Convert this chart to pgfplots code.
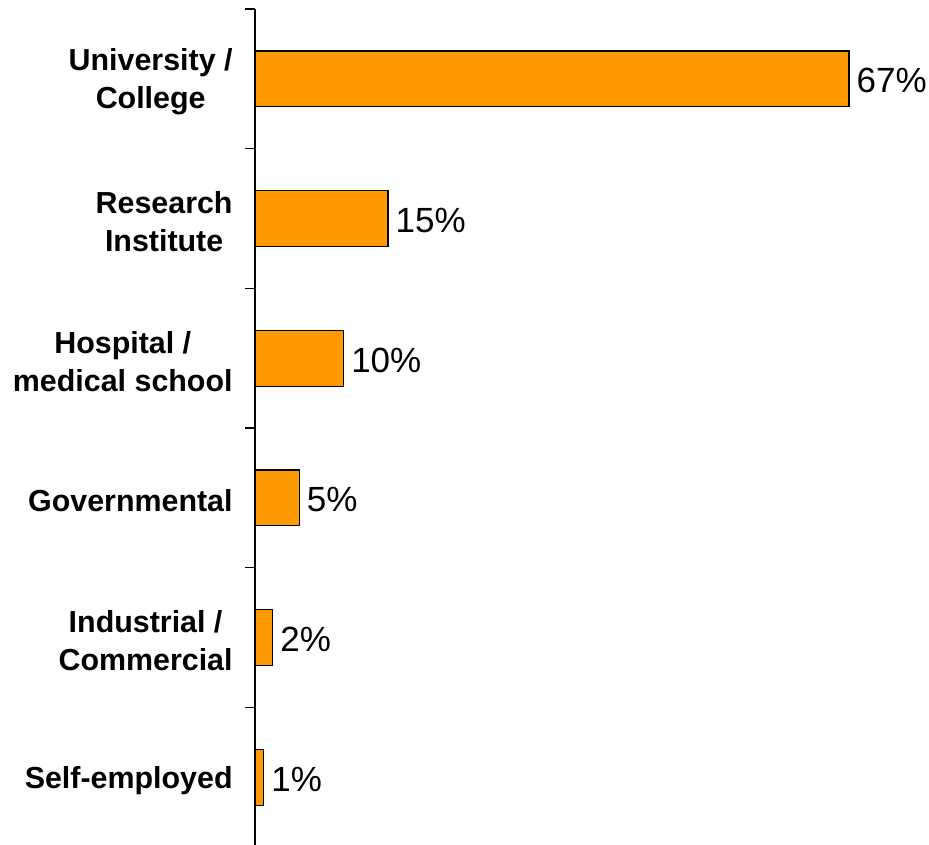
\documentclass[border=0pt]{standalone}
\usepackage{pgfplots}
\pgfplotsset{compat=1.18}
\usepackage{fontspec}
\setmainfont{Liberation Sans}
\definecolor{barorange}{HTML}{FF9900}
\begin{document}
\begin{tikzpicture}
\begin{axis}[
    name=ax,
    xbar,
    scale only axis,
    width=332.5pt, height=419pt,
    xmin=0, xmax=75,
    ymin=-0.5, ymax=5.5,
    axis x line=none,
    axis y line*=left,
    axis line style={line width=0.6pt},
    ytick={0,...,5},
    yticklabels={Self-employed, Industrial /\\Commercial, Governmental,
        Hospital /\\medical school, Research\\Institute, University /\\College},
    yticklabel style={font=\bfseries\fontsize{15.2}{19}\selectfont, align=center,
        inner sep=0pt, xshift=-11pt, yshift=-1.5pt},
    major tick length=0pt,
    minor ytick={-0.5,0.5,...,5.5},
    minor tick length=5pt,
    tick align=outside,
    minor tick style={line width=0.6pt, black},
    bar width=0.4,
    /pgf/number format/assume math mode=true,
    nodes near coords={\pgfmathprintnumber\pgfplotspointmeta\%},
    nodes near coords style={font=\fontsize{17.5}{19}\selectfont, anchor=west,
        inner sep=3.5pt, yshift=-1pt, black},
    clip=false,
]
\addplot[fill=barorange, draw=black, line width=0.6pt]
    coordinates {(1,0) (2,1) (5,2) (10,3) (15,4) (67,5)};
\end{axis}
\pgfresetboundingbox
\path[use as bounding box] (-127.5pt,1.5pt) rectangle (337pt,423.5pt);
\end{tikzpicture}
\end{document}
